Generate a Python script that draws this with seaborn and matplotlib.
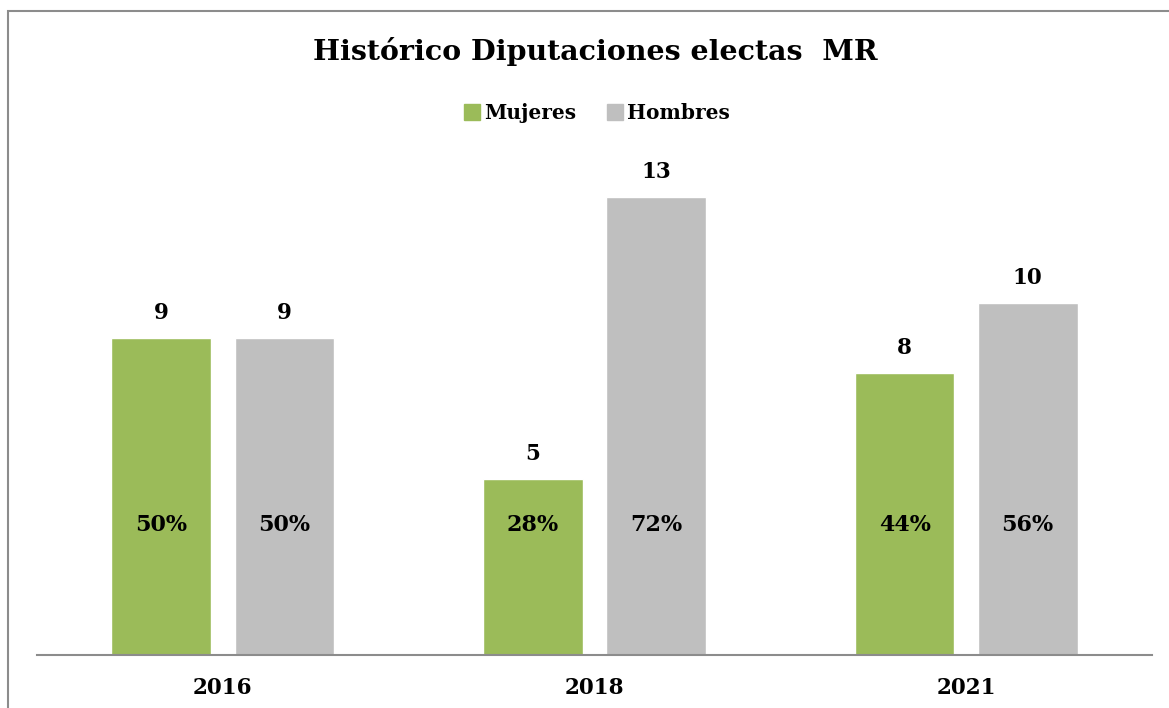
import pandas as pd
import numpy as np
import matplotlib
matplotlib.use("Agg")
import matplotlib.pyplot as plt
import seaborn as sns
from matplotlib.patches import Rectangle

years = ["2016", "2018", "2021"]
mujeres = [9, 5, 8]
hombres = [9, 13, 10]
series_names = ["Mujeres", "Hombres"]
colors = ["#9BBB59", "#BFBFBF"]

df = pd.DataFrame({
    "year": years * 2,
    "sexo": [series_names[0]] * 3 + [series_names[1]] * 3,
    "value": mujeres + hombres,
})
totals = np.array(mujeres) + np.array(hombres)

sns.set_style("white")
plt.rcParams["font.family"] = ["DejaVu Serif"]
plt.rcParams["text.color"] = "black"
plt.rcParams["xtick.color"] = "black"

fig = plt.figure(figsize=(11.69, 7.08), dpi=100)
ax = fig.add_axes([37 / 1169, 1 - 655 / 708, 1115 / 1169, 493 / 708])

sns.barplot(data=df, x="year", y="value", hue="sexo", palette=colors,
            width=0.662, gap=0.19, ax=ax, saturation=1, legend=False)

ax.set_xlim(-0.5, 2.5)
ax.set_ylim(0, 14)
ax.set_yticks([])
ax.set_xlabel("")
ax.set_ylabel("")
for s in ["left", "right", "top"]:
    ax.spines[s].set_visible(False)
ax.spines["bottom"].set_color("#8c8c8c")
ax.spines["bottom"].set_linewidth(1.5)
ax.tick_params(axis="x", length=0, pad=16, labelcolor="black")
for lbl in ax.get_xticklabels():
    lbl.set_fontsize(15.5)
    lbl.set_fontweight("bold")

# value labels and percentages
for cont, vals in zip(ax.containers, [mujeres, hombres]):
    for bar, v, t in zip(cont, vals, totals):
        cx = bar.get_x() + bar.get_width() / 2
        ax.annotate(str(v), (cx, v), xytext=(0, 18), textcoords="offset points",
                    ha="center", va="center", fontsize=15.5, fontweight="bold",
                    color="black")
        ax.text(cx, 3.7, f"{round(v / t * 100):.0f}%", ha="center", va="center",
                fontsize=16, fontweight="bold", color="black")

fig.text(595 / 1169, 1 - 52 / 708, "Histórico Diputaciones electas  MR", ha="center",
         va="center", fontsize=20.5, fontweight="bold", color="black")

handles = [Rectangle((0, 0), 1, 1, color=c) for c in colors]
fig.legend(handles, series_names, loc="center", bbox_to_anchor=(597 / 1169, 1 - 113 / 708),
           ncol=2, frameon=False, prop={"weight": "bold", "size": 14.5},
           handlelength=0.8, handleheight=0.8, handletextpad=0.2, columnspacing=1.5)

fig.patches.append(Rectangle((8 / 1169, -0.01), 1.02, 1 - 11 / 708 + 0.01,
                             transform=fig.transFigure, fill=False,
                             edgecolor="#8c8c8c", linewidth=1.5))

fig.savefig("out.png", dpi=100)
